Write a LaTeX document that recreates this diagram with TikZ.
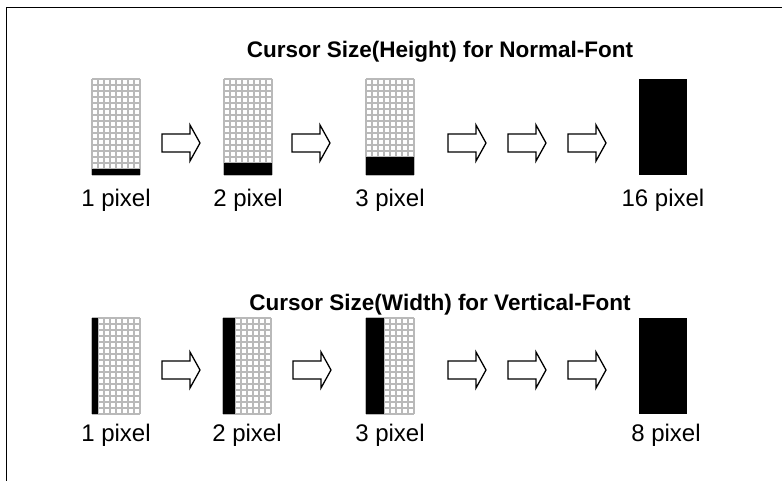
\documentclass[tikz,border=0pt]{standalone}
\usepackage{fontspec}
\setmainfont{Liberation Sans}
\usetikzlibrary{positioning}

\begin{document}
\begin{tikzpicture}[x=1pt, y=-1pt, every node/.style={font=\fontsize{24}{28}\selectfont, inner sep=0pt},
  title/.style={font=\bfseries\fontsize{22.5}{27}\selectfont},
  cellgrid/.style={draw=gray!55, line width=1.3pt},
  blockarrow/.style={draw, line width=1.3pt, fill=white, line join=miter}]
\useasboundingbox (0,0) rectangle (782,481);
\clip (0,0) rectangle (782,481);
\draw[line width=1pt] (6,8) rectangle (900,600);

% normal font: cursor grows in height
\node[title, anchor=base] (htitle) at (440,58) {Cursor Size(Height) for Normal-Font};
\foreach \gx in {92,224,366} {
  \foreach \i in {0,...,8} \draw[cellgrid] (\gx+6*\i,79) -- (\gx+6*\i,175);
  \foreach \j in {0,...,16} \draw[cellgrid] (\gx,79+6*\j) -- (\gx+48,79+6*\j);
}
\fill (92,169) rectangle (140,175);
\fill (224,163) rectangle (272,175);
\fill (366,157) rectangle (414,175);
\fill (639,79) rectangle (687,175);
\foreach \ax in {162,292,448,508,568}
  \draw[blockarrow] (\ax,134) -- (\ax+28,134) -- (\ax+28,125) -- (\ax+38,143) -- (\ax+28,161) -- (\ax+28,152) -- (\ax,152) -- cycle;
\node[anchor=base] (hone) at (116,207) {1 pixel};
\node[anchor=base] (htwo) at (248,207) {2 pixel};
\node[anchor=base] (hthree) at (390,207) {3 pixel};
\node[anchor=base] (hsixteen) at (663,207) {16 pixel};

% vertical font: cursor grows in width
\node[title, anchor=base] (wtitle) at (440,310) {Cursor Size(Width) for Vertical-Font};
\foreach \gx in {92,223,366} {
  \foreach \i in {0,...,8} \draw[cellgrid] (\gx+6*\i,318) -- (\gx+6*\i,414);
  \foreach \j in {0,...,16} \draw[cellgrid] (\gx,318+6*\j) -- (\gx+48,318+6*\j);
}
\fill (92,318) rectangle (98,414);
\fill (223,318) rectangle (235,414);
\fill (366,318) rectangle (384,414);
\fill (639,318) rectangle (687,414);
\foreach \ax in {162,293,448,508,568}
  \draw[blockarrow] (\ax,361) -- (\ax+28,361) -- (\ax+28,352) -- (\ax+38,370) -- (\ax+28,388) -- (\ax+28,379) -- (\ax,379) -- cycle;
\node[anchor=base] (wone) at (116,441) {1 pixel};
\node[anchor=base] (wtwo) at (247,441) {2 pixel};
\node[anchor=base] (wthree) at (390,441) {3 pixel};
\node[anchor=base] (weight) at (666,441) {8 pixel};
\end{tikzpicture}
\end{document}
